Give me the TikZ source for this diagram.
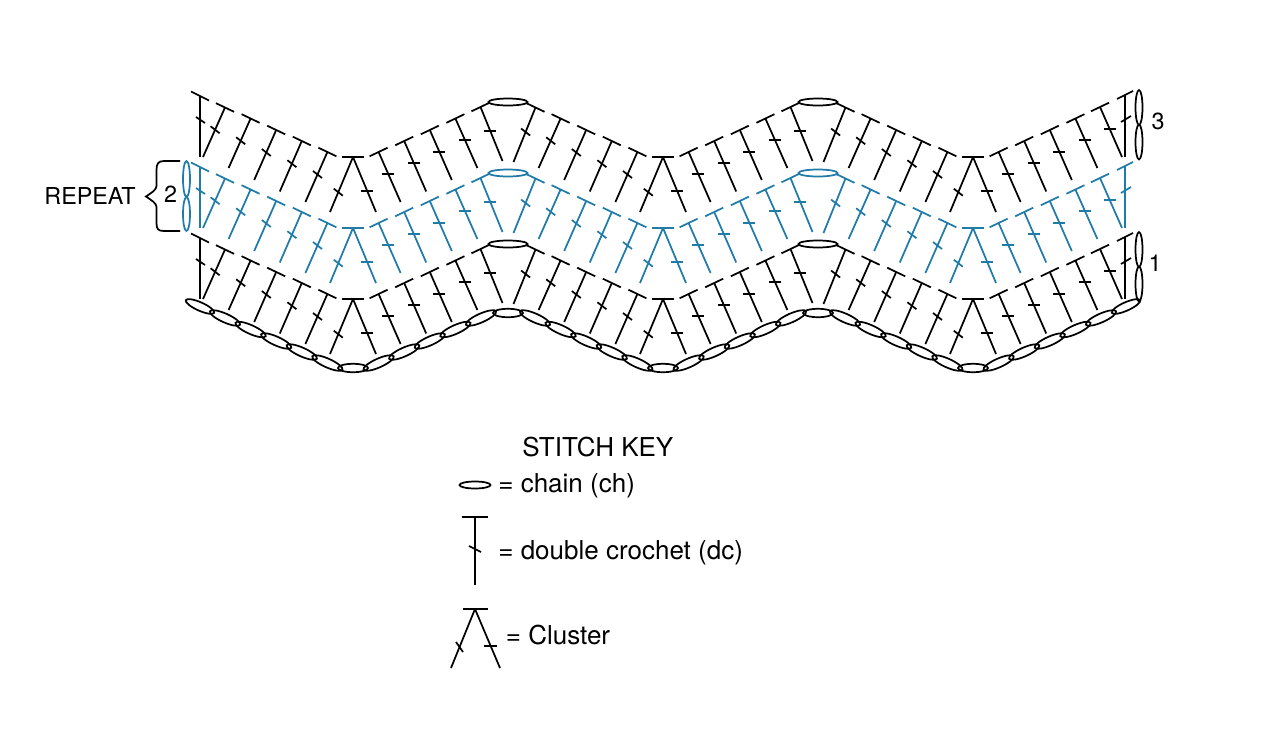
\documentclass[tikz,border=0pt]{standalone}
\usepackage{fontspec}
\setmainfont{TeX Gyre Heros}
\usetikzlibrary{calc}
\definecolor{rowblue}{HTML}{1F7BA8}

% one dc, stem falling to the left of its top bar
\newcommand{\dcleft}[3]{
  \draw (#1-9,#2-4.3) -- (#1+9,#2+4.3);
  \draw (#1,#2) -- coordinate[pos=0.45] (tick) (#1-22,#3);
  \draw ($(tick)+(-4.5,-3.5)$) -- ($(tick)+(4.5,3.5)$);
}
% one dc, stem falling to the right of its top bar
\newcommand{\dcright}[3]{
  \draw (#1-9,#2+4.3) -- (#1+9,#2-4.3);
  \draw (#1,#2) -- coordinate[pos=0.44] (tick) (#1+22,#3);
  \draw ($(tick)+(-6,0)$) -- ($(tick)+(6,0)$);
}
% one full row of the ripple
\newcommand{\ripplerow}{
  \foreach \vx in {353,663,973} {
    % cluster in the valley
    \draw (\vx-11,157) -- (\vx+11,157);
    \draw (\vx,157) -- coordinate[pos=0.64] (tickl) (\vx-23,212);
    \draw (\vx,157) -- coordinate[pos=0.62] (tickr) (\vx+23,212);
    \draw ($(tickl)+(-4.5,-3.5)$) -- ($(tickl)+(4.5,3.5)$);
    \draw ($(tickr)+(-6,0)$) -- ($(tickr)+(6,0)$);
    \foreach \j/\ty/\by in {1/152/202, 2/141/191.5, 3/130/180, 4/118.5/168} {
      \dcleft{\vx-25.6*\j}{\ty}{\by}
      \dcright{\vx+25.6*\j}{\ty}{\by}
    }
  }
  % stitches beside the peaks
  \foreach \px in {508,818} {
    \draw (\px,102) ellipse [x radius=19.5, y radius=3.5];
    \dcright{\px-27.5}{107}{161}
    \dcleft{\px+27.5}{107.5}{162}
  }
  % row ends
  \dcleft{225}{107.5}{157}
  \dcright{1100}{107}{157}
  \draw (191,91.5) -- (209,100.5);
  \draw (200,96) -- (200,157);
  \draw (196,117) -- (205,123);
  \draw (1117,99) -- (1133,91);
  \draw (1125,95) -- (1125,157);
  \draw (1121,122) -- (1131,116);
}

\begin{document}
\begin{tikzpicture}[
    x=0.75pt, y=-0.75pt,
    line width=1.3pt,
    key/.style={anchor=base west, inner sep=0pt, font=\fontsize{19.5}{22}\selectfont},
    num/.style={anchor=base, inner sep=0pt, font=\fontsize{17.5}{20}\selectfont}
  ]
  \useasboundingbox (0,0) rectangle (1278,732);

  % rows 3, 2, 1
  \ripplerow
  \begin{scope}[shift={(0,71)}, rowblue]
    \ripplerow
    \draw (186.5,108) ellipse [x radius=3.5, y radius=18];
    \draw (186.5,143) ellipse [x radius=3.5, y radius=17];
  \end{scope}
  \begin{scope}[shift={(0,142)}]
    \ripplerow
  \end{scope}

  % end chains on the right
  \foreach \cy in {107.5,142,249.5,284} {
    \draw (1139,\cy) ellipse [x radius=3.5, y radius=17.5];
  }

  % foundation chain
  \foreach \j/\cy in {1/363, 2/352, 3/341, 4/329.5, 5/318} {
    \foreach \vx in {353,663,973} {
      \draw ({\vx-25.6*\j},\cy) ellipse [x radius=16.5, y radius=4.4, rotate=-24];
      \draw ({\vx+25.6*\j},\cy) ellipse [x radius=16.5, y radius=4.4, rotate=24];
    }
  }
  \foreach \cx/\cy in {353/368, 663/368, 973/368, 508/313, 818/313} {
    \draw (\cx,\cy) ellipse [x radius=15, y radius=4.2];
  }
  \draw (200,306.5) ellipse [x radius=15.5, y radius=4.2, rotate=-24];
  \draw (1126,306.5) ellipse [x radius=15.5, y radius=4.2, rotate=24];

  % repeat brace
  \draw (180,161) -- (164,161) .. controls (158,161) and (156.5,164) .. (156.5,170)
    -- (156.5,186) .. controls (156.5,190) and (151,193) .. (146,196.5)
    .. controls (151,200) and (156.5,203) .. (156.5,207)
    -- (156.5,223) .. controls (156.5,229) and (158,231) .. (164,231) -- (180,231);

  % labels
  \node[num] (repeat) at (90,204) {REPEAT};
  \node[num] (two) at (170.5,202.5) {2};
  \node[num] (three) at (1158,129) {3};
  \node[num] (one) at (1155,271) {1};

  % stitch key
  \node[key] (keytitle) at (521.5,456) {STITCH KEY};
  \draw (475,485) ellipse [x radius=15.5, y radius=3.5];
  \node[key] (keychain) at (497.5,492) {= chain (ch)};
  \draw (462,517) -- (488,517);
  \draw (475,517) -- (475,585);
  \draw (469,546) -- (481,552);
  \node[key] (keydc) at (497.5,559) {= double crochet (dc)};
  \draw (463,609) -- (488,609);
  \draw (475,609) -- (451,668);
  \draw (475,609) -- (500,668);
  \draw (456,642) -- (463,652);
  \draw (484,646) -- (497,646);
  \node[key] (keycluster) at (505,644) {= Cluster};
\end{tikzpicture}
\end{document}
